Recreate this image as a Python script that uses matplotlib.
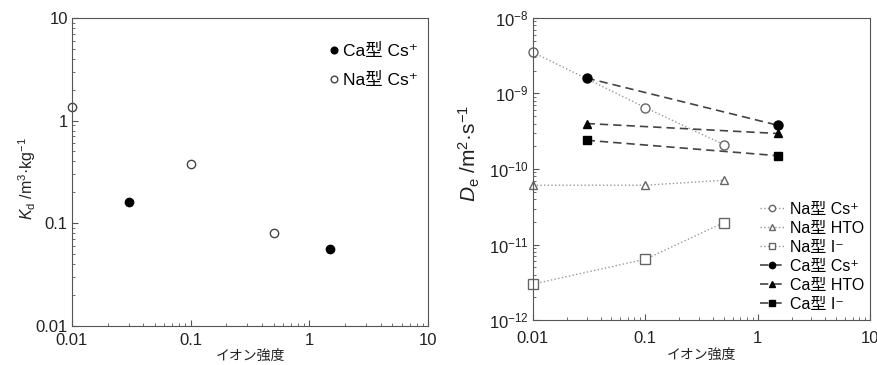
import matplotlib
matplotlib.use("Agg")
import matplotlib.pyplot as plt
from matplotlib.ticker import FuncFormatter, LogLocator
from matplotlib.font_manager import FontProperties

plt.rcParams['font.family'] = ['Liberation Sans', 'Noto Sans CJK JP', 'DejaVu Sans']
plt.rcParams['mathtext.fontset'] = 'custom'
plt.rcParams['mathtext.rm'] = 'Liberation Sans'
plt.rcParams['mathtext.it'] = 'Liberation Sans:italic'

# Left panel: Kd vs ionic strength
kd_ca_x = [0.03, 1.5]
kd_ca_y = [0.16, 0.056]
kd_na_x = [0.01, 0.1, 0.5]
kd_na_y = [1.35, 0.38, 0.08]

# Right panel: De vs ionic strength
na_x = [0.01, 0.1, 0.5]
na_cs = [3.5e-9, 6.5e-10, 2.1e-10]
na_hto = [6.1e-11, 6.1e-11, 7.1e-11]
na_i = [3.0e-12, 6.4e-12, 1.95e-11]
ca_x = [0.03, 1.5]
ca_cs = [1.6e-9, 3.8e-10]
ca_hto = [4.0e-10, 2.95e-10]
ca_i = [2.4e-10, 1.5e-10]

xlabel = "イオン強度"
fams = ['Liberation Sans', 'Noto Sans CJK JP', 'DejaVu Sans']

fig = plt.figure(figsize=(8.78, 3.65), dpi=100)
ax1 = fig.add_axes([0.082, 0.107, 0.4055, 0.844])
ax2 = fig.add_axes([0.607, 0.123, 0.384, 0.828])

frame = '#555555'

def style(ax, xpad):
    ax.set_xscale('log')
    ax.set_yscale('log')
    ax.tick_params(which='both', direction='in', top=False, right=False, colors=frame,
                   labelcolor='#222222', labelsize=12)
    ax.tick_params(which='major', length=4, pad=3)
    ax.tick_params(axis='x', which='major', pad=xpad)
    ax.tick_params(which='minor', length=2)
    ax.xaxis.set_minor_locator(LogLocator(subs=range(2, 10)))
    ax.yaxis.set_minor_locator(LogLocator(subs=range(2, 10)))
    for s in ax.spines.values():
        s.set_color(frame)
    ax.set_xlim(0.01, 10)
    ax.xaxis.set_major_formatter(FuncFormatter(lambda v, p: '{:g}'.format(v)))
    ax.set_xlabel(xlabel, fontsize=10, labelpad=1, color='#222222')

# Left
style(ax1, 5)
ax1.set_ylim(0.01, 10)
ax1.yaxis.set_major_formatter(FuncFormatter(lambda v, p: '{:g}'.format(v)))
ax1.plot(kd_ca_x, kd_ca_y, 'o', color='black', markersize=6, label='Ca型 Cs⁺', clip_on=False)
ax1.plot(kd_na_x, kd_na_y, 'o', mfc='white', mec='#444444', mew=1, markersize=6,
         label='Na型 Cs⁺', clip_on=False)
ax1.set_ylabel(r'$K_{\rm d}$ /m$^{3}$·kg$^{-1}$', fontsize=11.5, color='#222222')
ax1.yaxis.set_label_coords(-0.095, 0.48)
ax1.legend(loc='upper right', frameon=False, prop=FontProperties(family=fams, size=12.5),
           handlelength=0.4, handletextpad=0.3, markerscale=0.8,
           labelspacing=0.75, bbox_to_anchor=(1.015, 0.97))

# Right
style(ax2, 8)
ax2.set_ylim(1e-12, 1e-8)
gray = '#999999'
ax2.plot(na_x, na_cs, ':', color=gray, lw=1, marker='o', mfc='white', mec='#666666',
         markersize=6.5, label='Na型 Cs⁺', clip_on=False)
ax2.plot(na_x, na_hto, ':', color=gray, lw=1, marker='^', mfc='white', mec='#666666',
         markersize=6, label='Na型 HTO', clip_on=False)
ax2.plot(na_x, na_i, ':', color=gray, lw=1, marker='s', mfc='white', mec='#666666',
         markersize=6.5, label='Na型 I⁻', clip_on=False)
dark = '#444444'
ax2.plot(ca_x, ca_cs, '--', color=dark, lw=1.2, dashes=(5, 3), marker='o', mfc='black',
         mec='black', markersize=6.5, label='Ca型 Cs⁺')
ax2.plot(ca_x, ca_hto, '--', color=dark, lw=1.2, dashes=(5, 3), marker='^', mfc='black',
         mec='black', markersize=6, label='Ca型 HTO')
ax2.plot(ca_x, ca_i, '--', color=dark, lw=1.2, dashes=(5, 3), marker='s', mfc='black',
         mec='black', markersize=6, label='Ca型 I⁻')
ax2.set_ylabel(r'$D_{\rm e}$ /m$^{2}$·s$^{-1}$', fontsize=15, color='#222222')
ax2.yaxis.set_label_coords(-0.15, 0.55)
ax2.legend(loc='lower right', frameon=False, prop=FontProperties(family=fams, size=11.5),
           handlelength=1.6, handletextpad=0.3, markerscale=0.7,
           labelspacing=0.25, bbox_to_anchor=(1.025, -0.02))

fig.savefig('out.png', dpi=100)
